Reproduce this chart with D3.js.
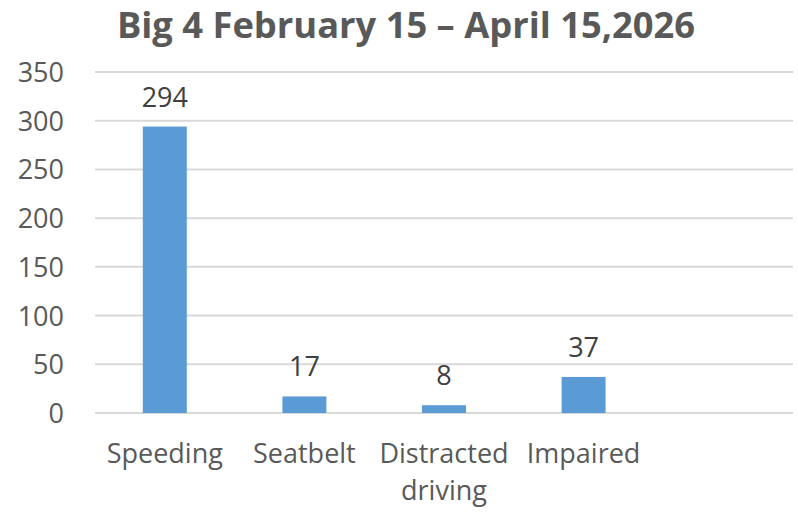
<!DOCTYPE html>
<head>
    <meta charset="utf-8" />
    <script src="https://d3js.org/d3.v7.min.js"></script>
    <style>
        body { margin: 0; background: #fff; }
        text { font-family: "Open Sans", sans-serif; }
    </style>
</head>
<body>
    <script>
        var width = 798,
            height = 513;

        // donnees
        var categories = ["Speeding", "Seatbelt", "Distracted driving", "Impaired", ""];
        var values = [294, 17, 8, 37, null];
        var yTicks = [0, 50, 100, 150, 200, 250, 300, 350];
        var title = "Big 4 February 15 \u2013 April 15,2026";

        var margin = {top: 72, right: 5, bottom: 100, left: 95};

        var svg = d3.select("body").append("svg")
            .attr("width", width)
            .attr("height", height);

        var x = d3.scaleBand()
            .domain(categories.map(function(d, i) { return i; }))
            .range([margin.left, width - margin.right]);

        var y = d3.scaleLinear()
            .domain([0, 350])
            .range([height - margin.bottom, margin.top]);

        // grille
        svg.append("g")
            .selectAll("line")
            .data(yTicks)
            .join("line")
            .attr("x1", margin.left)
            .attr("x2", width - margin.right)
            .attr("y1", function(d) { return y(d); })
            .attr("y2", function(d) { return y(d); })
            .attr("stroke", "#d9d9d9")
            .attr("stroke-width", 2);

        // axe y
        var yAxis = svg.append("g")
            .attr("transform", "translate(" + (margin.left - 31) + ",0)")
            .call(d3.axisLeft(y).tickValues(yTicks).tickSize(0).tickPadding(0));
        yAxis.select(".domain").remove();
        yAxis.selectAll("text")
            .attr("fill", "#595959")
            .style("font-size", "27px")
            .attr("dy", "0.35em");

        var barW = x.bandwidth() * 0.315;

        var bars = categories.map(function(c, i) { return {i: i, v: values[i]}; })
            .filter(function(d) { return d.v != null; });

        svg.append("g")
            .selectAll("rect")
            .data(bars)
            .join("rect")
            .attr("x", function(d) { return x(d.i) + (x.bandwidth() - barW) / 2; })
            .attr("y", function(d) { return y(d.v); })
            .attr("width", barW)
            .attr("height", function(d) { return y(0) - y(d.v); })
            .attr("fill", "#5b9bd5");

        // etiquettes de valeurs
        svg.append("g")
            .selectAll("text")
            .data(bars)
            .join("text")
            .attr("x", function(d) { return x(d.i) + x.bandwidth() / 2; })
            .attr("y", function(d) { return y(d.v) - 20; })
            .attr("text-anchor", "middle")
            .attr("fill", "#404040")
            .style("font-size", "27px")
            .text(function(d) { return d.v; });

        // etiquettes de categories (sur deux lignes si besoin)
        var catLabels = svg.append("g")
            .selectAll("text")
            .data(categories.map(function(c, i) { return {i: i, c: c}; }))
            .join("text")
            .attr("x", function(d) { return x(d.i) + x.bandwidth() / 2; })
            .attr("y", y(0) + 50)
            .attr("text-anchor", "middle")
            .attr("fill", "#595959")
            .style("font-size", "27px");

        catLabels.each(function(d) {
            var t = d3.select(this);
            var lines = d.c === "Distracted driving" ? ["Distracted", "driving"] : [d.c];
            lines.forEach(function(l, k) {
                t.append("tspan")
                    .attr("x", x(d.i) + x.bandwidth() / 2)
                    .attr("dy", k === 0 ? 0 : 37)
                    .text(l);
            });
        });

        // titre
        svg.append("text")
            .attr("x", 406)
            .attr("y", 38)
            .attr("text-anchor", "middle")
            .attr("fill", "#595959")
            .style("font-size", "36.3px")
            .style("font-weight", "bold")
            .text(title);
    </script>
</body>
